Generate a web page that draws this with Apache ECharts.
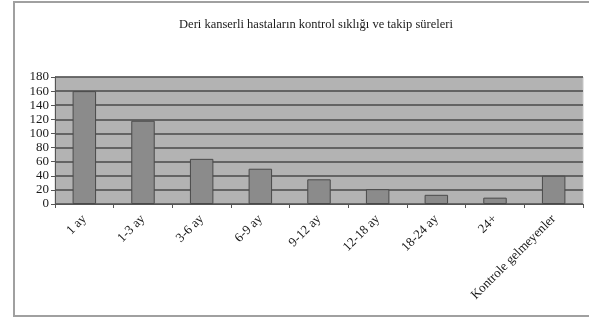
<!DOCTYPE html>
<html>
<head>
<meta charset="utf-8">
<script src="https://cdn.jsdelivr.net/npm/echarts@6/dist/echarts.min.js"></script>
<style>
  html, body { margin: 0; padding: 0; background: #fff; }
  #chart { width: 589px; height: 320px; }
</style>
</head>
<body>
<div id="chart"></div>
<script>
// Follow-up intervals for skin cancer patients
const titleText = 'Deri kanserli hastaların kontrol sıklığı ve takip süreleri';
const categories = ['1 ay', '1-3 ay', '3-6 ay', '6-9 ay', '9-12 ay', '12-18 ay', '18-24 ay', '24+', 'Kontrole gelmeyenler'];
const patientCounts = [160, 118, 64, 50, 35, 21, 13, 9, 40];
const yTicks = { min: 0, max: 180, step: 20 };

const serif = '"Liberation Serif", "Times New Roman", serif';
const chart = echarts.init(document.getElementById('chart'), null, { renderer: 'canvas' });

chart.setOption({
  backgroundColor: '#ffffff',
  animation: false,
  title: {
    text: titleText,
    left: 311,
    top: 13,
    textAlign: 'center',
    textStyle: { fontFamily: serif, fontSize: 12.5, fontWeight: 'normal', color: '#1a1a1a' }
  },
  graphic: [{
    type: 'rect',
    shape: { x: 14, y: 2, width: 600, height: 314 },
    style: { fill: 'none', stroke: '#a0a0a0', lineWidth: 2 },
    silent: true
  }],
  grid: {
    left: 55, right: 6, top: 77, bottom: 116,
    show: true,
    backgroundColor: '#b3b3b3',
    borderColor: '#c8c8c8',
    borderWidth: 1
  },
  xAxis: {
    type: 'category',
    data: categories,
    axisLine: { lineStyle: { color: '#555', width: 1 } },
    axisTick: { show: true, alignWithLabel: false, length: 4, lineStyle: { color: '#555' } },
    axisLabel: {
      rotate: 45,
      interval: 0,
      margin: 13,
      fontFamily: serif,
      fontSize: 13,
      color: '#1a1a1a'
    }
  },
  yAxis: {
    type: 'value',
    min: yTicks.min,
    max: yTicks.max,
    interval: yTicks.step,
    axisLine: { show: true, lineStyle: { color: '#555', width: 1 } },
    axisTick: { show: true, length: 4, lineStyle: { color: '#555' } },
    axisLabel: { fontFamily: serif, fontSize: 13, color: '#1a1a1a', margin: 6 },
    splitLine: { show: true, lineStyle: { color: '#4a4a4a', width: 1.5 } }
  },
  series: [{
    type: 'bar',
    data: patientCounts,
    barWidth: '40%',
    itemStyle: { color: '#8b8b8b', borderColor: '#4a4a4a', borderWidth: 1 }
  }]
});
</script>
</body>
</html>
